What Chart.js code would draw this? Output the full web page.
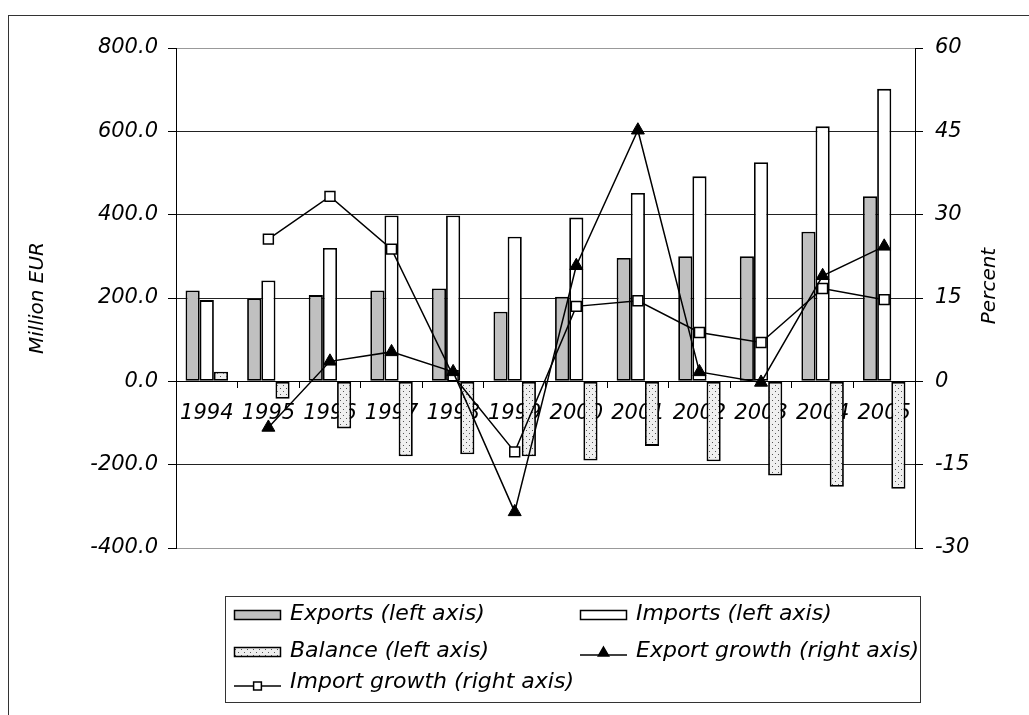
<!DOCTYPE html>
<html>
<head>
<meta charset="utf-8">
<script src="https://cdn.jsdelivr.net/npm/chart.js@4.4.0/dist/chart.umd.min.js"></script>
<style>
  body { margin: 0; background: #fff; }
  #frame { position: absolute; left: 8px; top: 15px; width: 1100px; height: 800px; border: 1px solid #333; }
  #chart { position: absolute; left: 0; top: 0; }
</style>
</head>
<body>
<div id="frame"></div>
<canvas id="chart" width="1029" height="715"></canvas>
<script>
const years = ['1994', '1995', '1996', '1997', '1998', '1999', '2000', '2001', '2002', '2003', '2004', '2005'];
const exportsEUR = [218, 199, 207, 218, 223, 167, 203, 296, 300, 300, 359, 444];
const importsEUR = [195, 242, 320, 398, 398, 347, 393, 452, 492, 526, 612, 702];
const balanceEUR = [23, -42, -113, -180, -175, -180, -190, -155, -192, -226, -253, -258];
const exportGrowth = [null, -8.3, 3.6, 5.3, 1.7, -23.5, 20.8, 45.2, 1.7, -0.2, 19.0, 24.3];
const importGrowth = [null, 25.6, 33.3, 23.8, 1.0, -12.7, 13.5, 14.5, 8.8, 7.0, 16.7, 14.7];
const leftTicks = { min: -400, max: 800, step: 200 };
const rightTicks = { min: -30, max: 60, step: 15 };
const leftTitle = 'Million EUR';
const rightTitle = 'Percent';

Chart.defaults.font.family = "'DejaVu Sans', sans-serif";
Chart.defaults.color = '#000';

// dotted fill used by the balance bars
function dotPattern() {
  const c = document.createElement('canvas');
  c.width = 6; c.height = 6;
  const g = c.getContext('2d');
  g.fillStyle = '#efefef';
  g.fillRect(0, 0, 6, 6);
  g.fillStyle = '#555';
  g.fillRect(1, 1, 1, 1);
  g.fillRect(4, 4, 1, 1);
  return g.createPattern(c, 'repeat');
}

// legend box + right axis title, drawn the way the original sheet has them
const sheetLegend = {
  id: 'sheetLegend',
  afterDraw(chart) {
    const ctx = chart.ctx;
    ctx.save();
    ctx.strokeStyle = '#333';
    ctx.lineWidth = 1;
    ctx.strokeRect(225.5, 596.5, 695, 106);

    const slots = [[234, 620], [580, 620], [234, 657], [580, 657], [234, 688]];
    chart.data.datasets.forEach((ds, i) => {
      const [x, base] = slots[i];
      if (ds.type === 'line') {
        const y = base - 2;
        ctx.strokeStyle = '#000';
        ctx.lineWidth = 1.5;
        ctx.beginPath();
        ctx.moveTo(x, y);
        ctx.lineTo(x + 47, y);
        ctx.stroke();
        ctx.fillStyle = ds.pointBackgroundColor;
        const r = ds.pointStyle === 'triangle' ? 6 : 5.5;
        const cy = ds.pointStyle === 'triangle' ? y - 2 : y;
        Chart.helpers.drawPoint(ctx, { pointStyle: ds.pointStyle, radius: r, borderWidth: 1.2, rotation: 0 }, x + 23.5, cy);
      } else {
        ctx.fillStyle = ds.backgroundColor;
        ctx.fillRect(x, base - 10, 47, 10);
        ctx.strokeStyle = '#000';
        ctx.lineWidth = 1.5;
        ctx.strokeRect(x + 0.5, base - 9.5, 46, 9);
      }
      ctx.fillStyle = '#000';
      ctx.font = "italic 22px 'DejaVu Sans', sans-serif";
      ctx.textAlign = 'left';
      ctx.textBaseline = 'alphabetic';
      ctx.fillText(ds.label, x + 56, base);
    });

    ctx.translate(990, 286);
    ctx.rotate(-Math.PI / 2);
    ctx.textAlign = 'center';
    ctx.textBaseline = 'middle';
    ctx.font = "italic 20px 'DejaVu Sans', sans-serif";
    ctx.fillText(rightTitle, 0, 0);
    ctx.restore();
  }
};

const ctx = document.getElementById('chart').getContext('2d');
const balanceFill = dotPattern();

new Chart(ctx, {
  type: 'bar',
  data: {
    labels: years,
    datasets: [
      {
        label: 'Exports (left axis)',
        data: exportsEUR,
        backgroundColor: '#c0c0c0',
        borderColor: '#000',
        borderWidth: 1.8,
        borderSkipped: false,
        yAxisID: 'y',
        order: 2,
      },
      {
        label: 'Imports (left axis)',
        data: importsEUR,
        backgroundColor: '#fff',
        borderColor: '#000',
        borderWidth: 1.8,
        borderSkipped: false,
        yAxisID: 'y',
        order: 2,
      },
      {
        label: 'Balance (left axis)',
        data: balanceEUR,
        backgroundColor: balanceFill,
        borderColor: '#000',
        borderWidth: 1.8,
        borderSkipped: false,
        yAxisID: 'y',
        order: 2,
      },
      {
        type: 'line',
        label: 'Export growth (right axis)',
        data: exportGrowth,
        borderColor: '#000',
        borderWidth: 1.5,
        pointStyle: 'triangle',
        pointRadius: 7.5,
        pointBackgroundColor: '#000',
        pointBorderColor: '#000',
        pointBorderWidth: 1,
        tension: 0,
        yAxisID: 'y1',
        order: 1,
      },
      {
        type: 'line',
        label: 'Import growth (right axis)',
        data: importGrowth,
        borderColor: '#000',
        borderWidth: 1.5,
        pointStyle: 'rect',
        pointRadius: 7,
        pointBackgroundColor: '#fff',
        pointBorderColor: '#000',
        pointBorderWidth: 1.5,
        tension: 0,
        yAxisID: 'y1',
        order: 1,
      },
    ],
  },
  options: {
    responsive: false,
    animation: false,
    layout: { padding: { left: 0, right: 0, top: 48, bottom: 167 } },
    datasets: {
      bar: { categoryPercentage: 0.69, barPercentage: 1.0 },
    },
    plugins: {
      legend: { display: false },
      tooltip: { enabled: false },
    },
    scales: {
      x: {
        position: { y: 0 },
        grid: { drawOnChartArea: false, offset: true, tickLength: 6, color: '#000' },
        border: { color: '#000', width: 1 },
        ticks: {
          maxRotation: 0,
          autoSkip: false,
          padding: 14,
          font: { size: 21, style: 'italic' },
        },
      },
      y: {
        position: 'left',
        min: leftTicks.min,
        max: leftTicks.max,
        afterFit(scale) { scale.width = 176; },
        ticks: {
          stepSize: leftTicks.step,
          padding: 10,
          font: { size: 21, style: 'italic' },
          callback: (v) => Number(v).toFixed(1),
        },
        grid: {
          color: (c) => (c.tick && (c.tick.value === leftTicks.max || c.tick.value === leftTicks.min) ? '#999' : '#222'),
          tickColor: '#000',
          tickLength: 8,
        },
        border: { color: '#000' },
        title: {
          display: true,
          text: leftTitle,
          font: { size: 20, style: 'italic' },
          padding: { top: 26, bottom: 0 },
        },
      },
      y1: {
        position: 'right',
        min: rightTicks.min,
        max: rightTicks.max,
        afterFit(scale) { scale.width = 114; },
        ticks: {
          stepSize: rightTicks.step,
          padding: 12,
          font: { size: 21, style: 'italic' },
        },
        grid: { drawOnChartArea: false, tickLength: 8, color: '#000' },
        border: { color: '#000' },
      },
    },
  },
  plugins: [sheetLegend],
});
</script>
</body>
</html>
